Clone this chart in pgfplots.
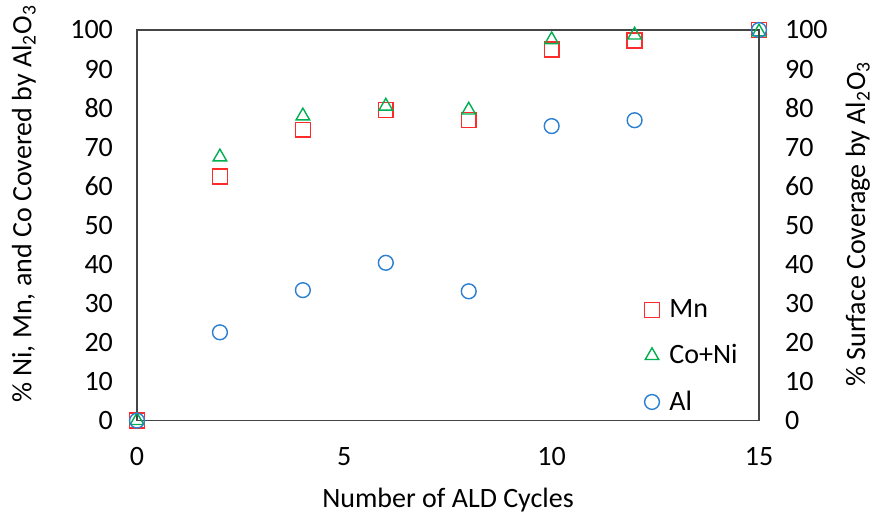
\documentclass[border=0pt]{standalone}
\usepackage{fontspec}
\setmainfont{Carlito}
\usepackage{pgfplots}
\pgfplotsset{compat=1.18}
\definecolor{mnred}{HTML}{FF2A2A}
\definecolor{cogreen}{HTML}{00B050}
\definecolor{alblue}{HTML}{2A7FD0}
\definecolor{axgray}{HTML}{454545}
\begin{document}
\begin{tikzpicture}
\pgfplotsset{
  common/.style={
    scale only axis, width=311pt, height=195.3pt,
    xmin=0, xmax=15, ymin=0, ymax=100,
    ytick={0,10,...,100},
    major tick length=0pt,
    tick style={draw=none},
    axis line style={draw=axgray, line width=0.9pt},
    /pgf/number format/assume math mode=true,
    font=\fontsize{14}{16.8}\selectfont,
    clip=false,
  },
}
\begin{axis}[common,
  xtick={0,5,10,15},
  xticklabel style={yshift=-10pt},
  yticklabel style={xshift=-8.5pt},
  every axis x label/.style={at={(axis description cs:0.5,0)}, anchor=north, yshift=-30pt},
  every axis y label/.style={at={(axis description cs:-0.182,0.555)}, anchor=center, rotate=90},
  xlabel={Number of ALD Cycles},
  ylabel={\% Ni, Mn, and Co Covered by Al\textsubscript{2}O\textsubscript{3}},
  legend style={at={(axis description cs:0.809,0.0)}, anchor=south west, draw=none, fill=none,
    row sep=9pt, column sep=3.5pt, inner sep=2pt, font=\fontsize{14}{16.8}\selectfont,
    nodes={inner sep=1.5pt}},
  legend cell align=left,
]
\addplot[only marks, mark=square, mark size=3.7pt, mnred, mark options={line width=0.7pt}]
  coordinates {(0,0) (2,62.5) (4,74.5) (6,79.5) (8,77) (10,95) (12,97.3) (15,100)};
\addlegendentry{Mn}
\addplot[only marks, mark=triangle, mark size=3.9pt, cogreen, mark options={line width=0.7pt}]
  coordinates {(0,0) (2,67.5) (4,78) (6,80.5) (8,79.5) (10,97.5) (12,98.7) (15,99.5)};
\addlegendentry{Co+Ni}
\addplot[only marks, mark=o, mark size=3.7pt, alblue, mark options={line width=0.7pt}]
  coordinates {(0,0) (2,22.6) (4,33.4) (6,40.4) (8,33.1) (10,75.4) (12,76.9) (15,100)};
\addlegendentry{Al}
\end{axis}
\begin{axis}[common,
  axis x line=none,
  axis y line*=right,
  yticklabel style={xshift=9.5pt},
  every axis y label/.style={at={(axis description cs:1.159,0.503)}, anchor=center, rotate=90},
  ylabel={\% Surface Coverage by Al\textsubscript{2}O\textsubscript{3}},
]
\addplot[draw=none, forget plot] coordinates {(0,0) (15,100)};
\end{axis}
\pgfresetboundingbox
\path[use as bounding box] (-68.5pt,-46.7pt) rectangle (369pt,210.3pt);
\end{tikzpicture}
\end{document}
